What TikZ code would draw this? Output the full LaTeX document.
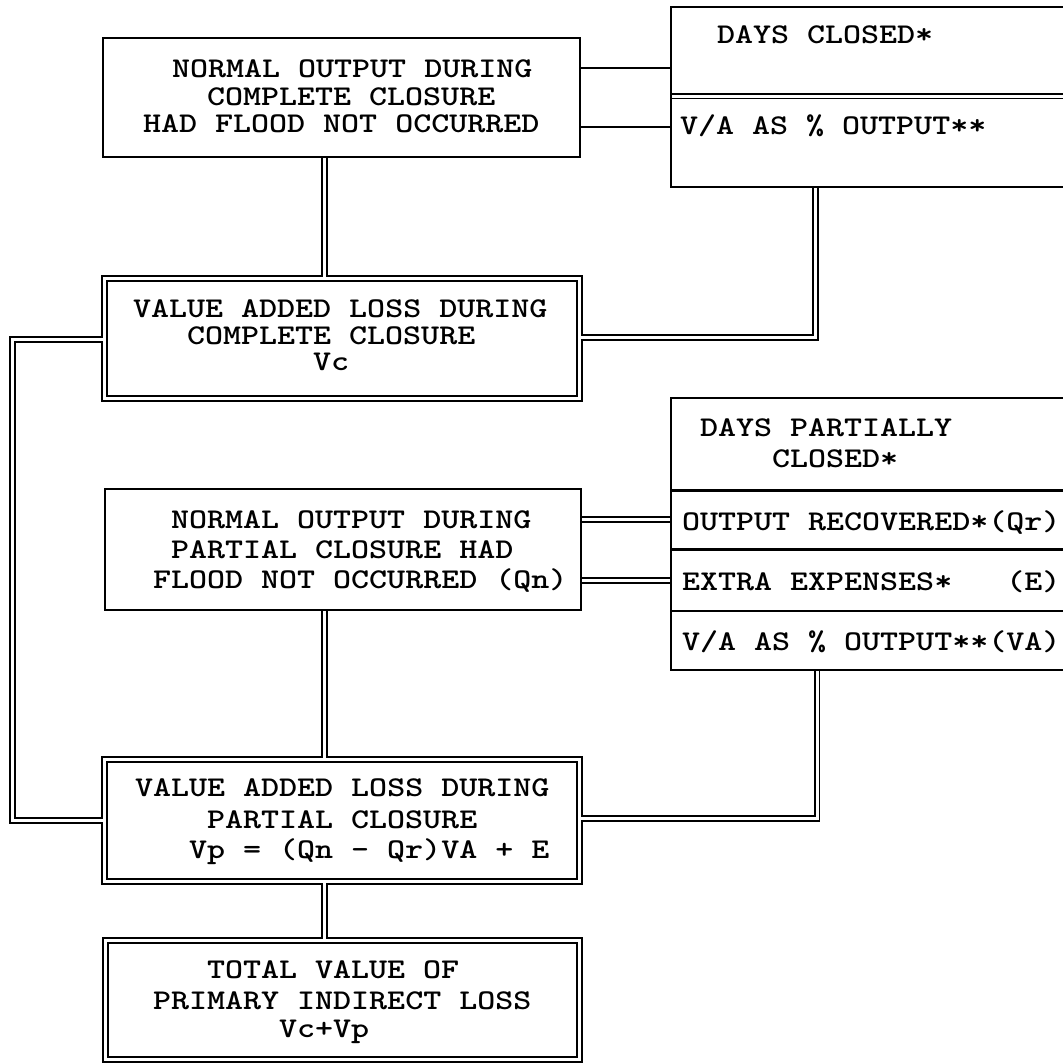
\documentclass[tikz,border=0pt]{standalone}
\usepackage{fontspec}
% typewriter face, widened to a 10-pitch look
\newfontfamily\tw[FakeStretch=1.2]{lmmonolt10-bold.otf}
\newlength{\cw}\setlength{\cw}{18pt}
\newcommand{\gap}[1]{\hspace*{#1\cw}}
\begin{document}
\begin{tikzpicture}[x=1pt,y=-1pt,
  txt/.style={font=\tw\fontsize{28.6}{28.6}\selectfont,
              inner sep=0pt, outer sep=0pt, anchor=base west},
  sbox/.style={draw, rectangle, inner sep=0pt, outer sep=0pt, line width=2.2pt},
  dbox/.style={draw, rectangle, inner sep=0pt, outer sep=0pt,
               double, double distance=3pt, line width=1.8pt},
  sgl/.style={line width=2.2pt},
  dbl/.style={double, double distance=3pt, line width=1.8pt}
]
\useasboundingbox (0,0) rectangle (1063,1063);
\clip (0,0) rectangle (1063,1063);

% ---------- boxes ----------
\node[sbox, minimum width=477pt, minimum height=119pt] (box1) at (341.5,97.5) {};
\node[sbox, minimum width=419pt, minimum height=180pt] (R1)   at (880.5,97) {};
\node[dbox, minimum width=475pt, minimum height=120pt] (box3) at (342,338.5) {};
\node[sbox, minimum width=419pt, minimum height=272pt] (R2)   at (880.5,534) {};
\node[sbox, minimum width=476pt, minimum height=121pt] (box5) at (343,549.5) {};
\node[dbox, minimum width=475pt, minimum height=122pt] (box6) at (342,820.5) {};
\node[dbox, minimum width=474pt, minimum height=119pt] (box7) at (342.5,1000) {};

% dividers of the two input panels
\coordinate (d0) at (0,96);
\coordinate (d1) at (0,490.5);
\coordinate (d2) at (0,549.5);
\coordinate (d3) at (0,611);
\draw[dbl, shorten <=1.1pt] (R1.west |- d0) -- (R1.east |- d0);
\draw[sgl] (R2.west |- d1) -- (R2.east |- d1);
\draw[sgl] (R2.west |- d2) -- (R2.east |- d2);
\draw[sgl] (R2.west |- d3) -- (R2.east |- d3);

% ---------- texts ----------
\node[txt] (t1a) at (172,77)  {NORMAL OUTPUT DURING};
\node[txt] (t1b) at (207,105) {COMPLETE CLOSURE};
\node[txt] (t1c) at (143,132) {HAD FLOOD NOT OCCURRED};

\node[txt] (r1a) at (717,43)  {DAYS CLOSED*};
\node[txt] (r1b) at (680,134) {V/A AS \% OUTPUT**};

\node[txt] (t3a) at (133,317) {VALUE ADDED LOSS DURING};
\node[txt] (t3b) at (187,344) {COMPLETE CLOSURE};
\node[txt] (t3c) at (313,370) {Vc};

\node[txt] (r2a) at (700,436) {DAYS PARTIALLY};
\node[txt] (r2b) at (772,467) {CLOSED*};
\node[txt] (r2c) at (682,530) {OUTPUT RECOVERED*(Qr)};
\node[txt] (r2d) at (682,590) {EXTRA EXPENSES*\gap{3}(E)};
\node[txt] (r2e) at (682,650) {V/A AS \% OUTPUT**(VA)};

\node[txt] (t5a) at (171,528) {NORMAL OUTPUT DURING};
\node[txt] (t5b) at (171,558) {PARTIAL CLOSURE HAD};
\node[txt] (t5c) at (153,588) {FLOOD NOT OCCURRED (Qn)};

\node[txt] (t6a) at (135,796) {VALUE ADDED LOSS DURING};
\node[txt] (t6b) at (207,828) {PARTIAL CLOSURE};
\node[txt] (t6c) at (189,858) {Vp = (Qn - Qr)VA + E};

\node[txt] (t7a) at (207,978)  {TOTAL VALUE OF};
\node[txt] (t7b) at (153,1009) {PRIMARY INDIRECT LOSS};
\node[txt] (t7c) at (279,1037) {Vc+Vp};

% ---------- connectors ----------
\coordinate (spine) at (324.5,0);
\coordinate (h1) at (0,68);
\coordinate (h2) at (0,127);
\coordinate (h3) at (0,519.5);
\coordinate (h4) at (0,580.5);
\coordinate (lc1) at (12.5,339.5);
\coordinate (lc2) at (12.5,820.5);
\coordinate (rc1) at (815.5,337.5);
\coordinate (rc2) at (817,818.5);

% single links from the first output box to its input panel
\draw[sgl, shorten <=1.1pt, shorten >=1.1pt] (box1.east |- h1) -- (R1.west |- h1);
\draw[sgl, shorten <=1.1pt, shorten >=1.1pt] (box1.east |- h2) -- (R1.west |- h2);

% double links between the partial-closure boxes
\draw[dbl, shorten <=1.1pt, shorten >=1.1pt] (box5.east |- h3) -- (R2.west |- h3);
\draw[dbl, shorten <=1.1pt, shorten >=1.1pt] (box5.east |- h4) -- (R2.west |- h4);

% central spine
\draw[dbl, shorten <=1.1pt, shorten >=1.5pt] (box1.south -| spine) -- (box3.north -| spine);
\draw[dbl, shorten <=1.1pt, shorten >=1.5pt] (box5.south -| spine) -- (box6.north -| spine);
\draw[dbl, shorten <=1.5pt, shorten >=1.5pt] (box6.south -| spine) -- (box7.north -| spine);

% input panels down into the loss boxes
\draw[dbl, shorten <=1.1pt, shorten >=1.5pt] (R1.south -| rc1) -- (rc1) -- (box3.east |- rc1);
\draw[dbl, shorten <=1.1pt, shorten >=1.5pt] (R2.south -| rc2) -- (rc2) -- (box6.east |- rc2);

% loop on the left joining the two loss boxes
\draw[dbl, shorten <=1.5pt, shorten >=1.5pt] (box3.west |- lc1) -- (lc1) -- (lc2) -- (box6.west |- lc2);
\end{tikzpicture}
\end{document}
